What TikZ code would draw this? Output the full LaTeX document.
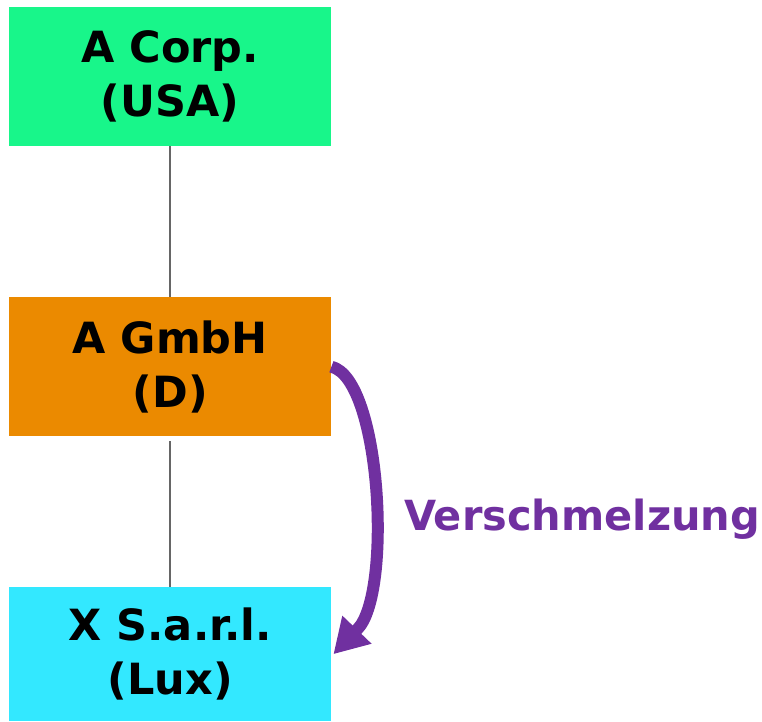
\documentclass[tikz,border=0pt]{standalone}
\usepackage{fontspec}
\setmainfont{DejaVu Sans}
\usetikzlibrary{arrows.meta}
\definecolor{corpgreen}{HTML}{18F68A}
\definecolor{gmbhorange}{HTML}{EB8A00}
\definecolor{sarlcyan}{HTML}{33E8FF}
\definecolor{mergepurple}{HTML}{7030A0}
\definecolor{linkgray}{HTML}{666666}
\begin{document}
\begin{tikzpicture}[x=1pt,y=-1pt,
  entity/.style={anchor=north west, minimum width=322pt, minimum height=139pt,
    inner sep=0pt, align=center,
    font=\fontsize{43}{54}\selectfont\bfseries},
  link/.style={draw=linkgray, line width=2pt},
  merge/.style={draw=mergepurple, line width=12pt, line join=round,
    -{Triangle[length=34pt,width=38pt]}},
  mergelabel/.style={text=mergepurple, inner sep=0pt, anchor=base,
    font=\fontsize{41.5}{48}\selectfont\bfseries}]
  \useasboundingbox (0,0) rectangle (762,721);

  % entities
  \node[entity, fill=corpgreen] (corp) at (9,7) {A Corp.\\(USA)};
  \node[entity, fill=gmbhorange] (gmbh) at (9,297) {A GmbH\\(D)};
  \node[entity, fill=sarlcyan, minimum height=134pt] (sarl) at (9,587) {X S.a.r.l.\\(Lux)};

  % ownership links
  \draw[link] (corp.south) -- (gmbh.north);
  \draw[link] ([yshift=-5pt]gmbh.south) -- (sarl.north);

  % merger arrow: curved body, straight final piece under the head
  \draw[merge] (gmbh.east) .. controls +(50,12) and +(35,-35)
      .. ([shift={(26,-25)}]sarl.east) -- ([xshift=2pt]sarl.east);
  \node[mergelabel] (lbl) at (582,530) {Verschmelzung};
\end{tikzpicture}
\end{document}
